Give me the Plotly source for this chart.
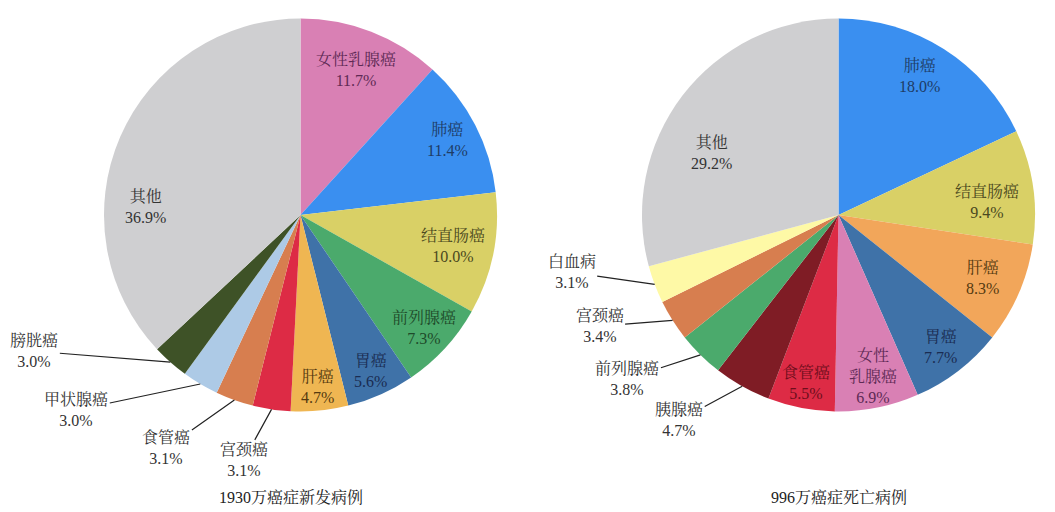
import math
import plotly.graph_objects as go

W, H = 1055, 512

# ---- data ----
new_labels = ["女性乳腺癌", "肺癌", "结直肠癌", "前列腺癌", "胃癌", "肝癌",
              "宫颈癌", "食管癌", "甲状腺癌", "膀胱癌", "其他"]
new_values = [11.7, 11.4, 10.0, 7.3, 5.6, 4.7, 3.1, 3.1, 3.0, 3.0, 36.9]

death_labels = ["肺癌", "结直肠癌", "肝癌", "胃癌", "女性乳腺癌", "食管癌",
                "胰腺癌", "前列腺癌", "宫颈癌", "白血病", "其他"]
death_values = [18.0, 9.4, 8.3, 7.7, 6.9, 5.5, 4.7, 3.8, 3.4, 3.1, 29.2]

titles = ["1930万癌症新发病例", "996万癌症死亡病例"]

# ---- style ----
new_colors = ["#D980B4", "#3A8FF0", "#D9D066", "#4BAA6C", "#3F72A8", "#EFB652",
              "#DD2B45", "#D77E4F", "#ADCAE6", "#3E5227", "#CFCFD1"]
death_colors = ["#3A8FF0", "#D9D066", "#F2A65A", "#3F72A8", "#D980B4", "#DD2B45",
                "#7F1C25", "#4BAA6C", "#D77E4F", "#FEF9A6", "#CFCFD1"]

# label layout: ("in", radius fraction, angle override, text colour) or ("out", dx, dy)
new_layout = {
    "女性乳腺癌": ("in", 0.79, None, "#5E2A55"),
    "肺癌": ("in", 0.84, None, "#1E3C66"),
    "结直肠癌": ("in", 0.79, None, "#4A4820"),
    "前列腺癌": ("in", 0.85, None, "#1E4A2A"),
    "胃癌": ("in", 0.87, None, "#1A2C52"),
    "肝癌": ("in", 0.88, None, "#553A10"),
    "宫颈癌": ("out", -28, 51),
    "食管癌": ("out", -68, 48),
    "甲状腺癌": ("out", -124, 26),
    "膀胱癌": ("out", -136, -11),
    "其他": ("in", 0.79, 273, "#333333"),
}
death_layout = {
    "肺癌": ("in", 0.82, 30, "#1E3C66"),
    "结直肠癌": ("in", 0.76, 85, "#4A4820"),
    "肝癌": ("in", 0.80, None, "#553A10"),
    "胃癌": ("in", 0.85, None, "#1A2C52"),
    "女性乳腺癌": ("in", 0.84, 167.8, "#5E2A55"),
    "食管癌": ("in", 0.87, None, "#6E0E1C"),
    "胰腺癌": ("out", -63, 34),
    "前列腺癌": ("out", -73, 24),
    "宫颈癌": ("out", -73, 6),
    "白血病": ("out", -83, -12),
    "其他": ("in", 0.72, 296, "#333333"),
}

FONT = "'Liberation Serif', 'Noto Serif CJK SC', 'Noto Sans CJK SC', serif"
FS = 16
CY = 215.0
R = 196.5
centers = [300.5, 838.5]

fig = go.Figure()
annotations = []


def px(x):
    return x / W


def py(y):
    return 1 - y / H


charts = [
    (new_labels, new_values, new_colors, new_layout, titles[0]),
    (death_labels, death_values, death_colors, death_layout, titles[1]),
]

for (labels, values, colors, lay, title), cx in zip(charts, centers):
    fig.add_trace(go.Pie(
        labels=labels, values=values, sort=False, direction="clockwise",
        rotation=0, textinfo="none", hoverinfo="label+value",
        marker=dict(colors=colors, line=dict(width=0)),
        domain=dict(x=[px(cx - R), px(cx + R)], y=[py(CY + R), py(CY - R)]),
        showlegend=False,
    ))
    total = sum(values)
    cum = 0.0
    for lab, v in zip(labels, values):
        mid = (cum + v / 2) / total * 360.0
        cum += v
        spec = lay[lab]
        name = lab
        if lab == "女性乳腺癌" and title == titles[1]:
            name = "女性<br>乳腺癌"
        text = f"{name}<br>{v:.1f}%"
        if spec[0] == "in":
            _, rf, ang, col = spec
            a = math.radians(ang if ang is not None else mid)
            x = cx + rf * R * math.sin(a)
            y = CY - rf * R * math.cos(a)
            annotations.append(dict(
                x=px(x), y=py(y), xref="paper", yref="paper", text=text,
                showarrow=False, font=dict(family=FONT, size=FS, color=col),
                xanchor="center", yanchor="middle",
            ))
        else:
            _, dx, dy = spec
            a = math.radians(mid)
            x = cx + R * math.sin(a)
            y = CY - R * math.cos(a)
            annotations.append(dict(
                x=px(x), y=py(y), xref="paper", yref="paper", text=text,
                showarrow=True, arrowhead=0, arrowwidth=1.2, arrowcolor="#222222",
                ax=dx, ay=dy, standoff=0, startstandoff=0,
                font=dict(family=FONT, size=FS, color="#333333"),
            ))
    annotations.append(dict(
        x=px(cx - 10 if title == titles[0] else cx), y=py(497), xref="paper", yref="paper",
        text=title, showarrow=False,
        font=dict(family=FONT, size=FS, color="#222222"),
        xanchor="center", yanchor="middle",
    ))

fig.update_layout(
    width=W, height=H, margin=dict(l=0, r=0, t=0, b=0),
    paper_bgcolor="white", plot_bgcolor="white",
    annotations=annotations,
)

fig.write_html(
    "out.html",
    config={"displayModeBar": False},
    post_script="document.body.style.margin='0';document.body.style.padding='0';document.body.style.overflow='hidden';",
)
